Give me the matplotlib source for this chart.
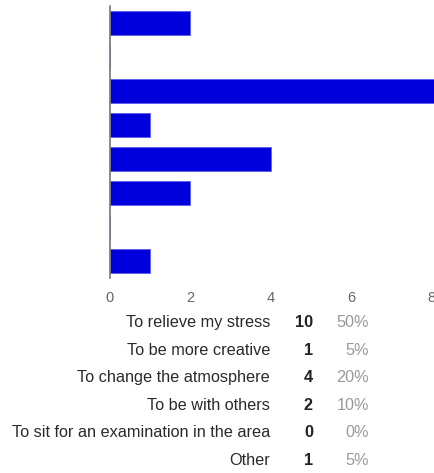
import numpy as np
import matplotlib.pyplot as plt

plt.rcParams['font.family'] = ['Liberation Sans', 'DejaVu Sans']

# bars as shown in the chart (top to bottom); first two belong to rows cut off above
bar_values = [2, 0, 10, 1, 4, 2, 0, 1]

# summary table below the chart
labels = ["To relieve my stress", "To be more creative", "To change the atmosphere",
          "To be with others", "To sit for an examination in the area", "Other"]
counts = [10, 1, 4, 2, 0, 1]
percents = ["50%", "5%", "20%", "10%", "0%", "5%"]

W, H = 435, 473
fig = plt.figure(figsize=(W / 100, H / 100), dpi=100)
ax = fig.add_axes([110 / W, 1 - 278 / H, (W - 110) / W, (278 - 6) / H])

ypos = np.arange(len(bar_values))
ax.barh(ypos, bar_values, height=0.68, color='#0000dd', edgecolor='#5a5ae8', linewidth=0.6)
ax.set_ylim(len(bar_values) - 0.5, -0.5)
ax.set_xlim(0, 8.08)

for s in ['top', 'right', 'bottom']:
    ax.spines[s].set_visible(False)
ax.spines['left'].set_color('#777777')
ax.spines['left'].set_linewidth(1.2)
ax.set_yticks([])
ax.set_xticks([0, 2, 4, 6, 8])
ax.tick_params(axis='x', length=0, pad=9, labelsize=10.5, labelcolor='#666666')

row_y = [322, 350, 377, 405, 432, 460]
for y, lab, c, p in zip(row_y, labels, counts, percents):
    fy = 1 - y / H
    fig.text(270 / W, fy, lab, ha='right', va='center', fontsize=11.7, color='#2a2a2a')
    fig.text(313 / W, fy, str(c), ha='right', va='center', fontsize=11.7,
             fontweight='bold', color='#222222')
    fig.text(369 / W, fy, p, ha='right', va='center', fontsize=11.7, color='#999999')

fig.savefig('out.png', dpi=100)
